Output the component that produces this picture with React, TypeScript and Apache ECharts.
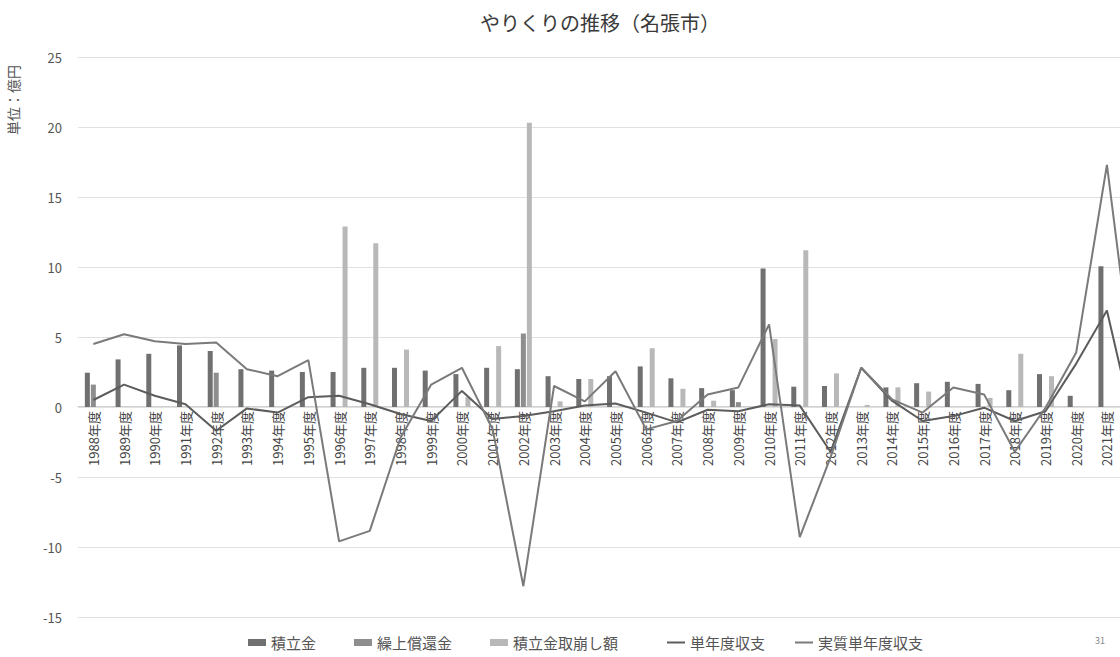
import React, { useEffect, useRef } from "react";
import * as echarts from "echarts";

const categories = [
  "1988年度", "1989年度", "1990年度", "1991年度", "1992年度", "1993年度", "1994年度",
  "1995年度", "1996年度", "1997年度", "1998年度", "1999年度", "2000年度", "2001年度",
  "2002年度", "2003年度", "2004年度", "2005年度", "2006年度", "2007年度", "2008年度",
  "2009年度", "2010年度", "2011年度", "2012年度", "2013年度", "2014年度", "2015年度",
  "2016年度", "2017年度", "2018年度", "2019年度", "2020年度", "2021年度", "2022年度",
];

// 積立金
const reserve = [
  2.45, 3.4, 3.8, 4.4, 4.0, 2.7, 2.6, 2.5, 2.5, 2.8, 2.8, 2.6, 2.35, 2.8, 2.7, 2.2, 2.0,
  2.2, 2.9, 2.05, 1.35, 1.2, 9.9, 1.45, 1.5, null, 1.4, 1.7, 1.8, 1.65, 1.2, 2.35, 0.8,
  10.05, null,
];

// 繰上償還金
const earlyRepayment = [
  1.6, null, null, null, 2.45, null, null, null, null, null, null, null, null, null, 5.25,
  null, null, null, null, null, null, 0.35, null, null, null, null, null, null, null, null,
  null, null, null, null, null,
];

// 積立金取崩し額
const withdrawal = [
  null, null, null, null, null, null, null, null, 12.9, 11.7, 4.1, null, 0.7, 4.35, 20.3,
  0.4, 2.0, null, 4.2, 1.3, 0.45, null, 4.85, 11.2, 2.4, 0.15, 1.4, 1.1, null, 0.65, 3.8,
  2.2, null, null, null,
];

// 単年度収支
const singleYear = [
  0.5, 1.6, 0.8, 0.2, -1.7, -0.1, -0.4, 0.7, 0.8, 0.2, -0.5, -1.0, 1.15, -0.85, -0.65,
  -0.3, 0.1, 0.25, -0.4, -1.1, -0.2, -0.3, 0.2, 0.1, -3.2, 2.8, 0.45, -1.0, -0.65, -0.05,
  -1.0, -0.3, 3.1, 6.9, -2.6,
];

// 実質単年度収支
const realSingleYear = [
  4.5, 5.2, 4.7, 4.5, 4.6, 2.7, 2.2, 3.35, -9.6, -8.85, -2.2, 1.6, 2.8, -1.6, -12.8, 1.5,
  0.4, 2.55, -1.6, -1.0, 0.9, 1.4, 5.9, -9.3, -3.6, 2.8, 0.55, -0.4, 1.4, 0.9, -3.2, -0.05,
  3.9, 17.3, -0.1,
];

const FONT = "'Noto Sans CJK JP', 'Noto Sans', sans-serif";

export default function App() {
  const ref = useRef<HTMLDivElement>(null);

  useEffect(() => {
    document.body.style.margin = "0";
    if (!ref.current) return;
    const chart = echarts.init(ref.current, undefined, { renderer: "svg" });
    const visibleCount = categories.length - 1;
    const legendText = { fontFamily: FONT, fontSize: 15, color: "#555" };
    chart.setOption({
      animation: false,
      backgroundColor: "#ffffff",
      textStyle: { fontFamily: FONT },
      title: {
        text: "やりくりの推移（名張市）",
        left: 595,
        top: 7,
        textAlign: "center",
        textStyle: { fontFamily: FONT, fontSize: 20, fontWeight: "normal", color: "#3a3a3a" },
      },
      graphic: [
        {
          type: "text",
          x: 13,
          y: 100,
          rotation: Math.PI / 2,
          style: {
            text: "単位：億円",
            fontFamily: FONT,
            fontSize: 14,
            fill: "#555",
            align: "center",
            verticalAlign: "middle",
          },
        },
        {
          type: "text",
          x: 1100,
          y: 636,
          style: { text: "31", fontFamily: FONT, fontSize: 9, fill: "#888", align: "center" },
        },
      ],
      legend: [
        {
          left: 243,
          bottom: 2,
          itemGap: 38,
          itemWidth: 18,
          itemHeight: 7,
          icon: "rect",
          textStyle: legendText,
          data: ["積立金", "繰上償還金", "積立金取崩し額"],
        },
        {
          left: 662,
          bottom: 2,
          itemGap: 30,
          itemWidth: 18,
          itemHeight: 2,
          icon: "rect",
          textStyle: legendText,
          data: ["単年度収支", "実質単年度収支"],
        },
      ],
      grid: {
        left: 78,
        right: -33,
        top: 57,
        bottom: 40,
        containLabel: false,
        outerBoundsMode: "none",
      },
      xAxis: {
        type: "category",
        data: categories,
        offset: -211,
        axisTick: { show: false },
        axisLine: { onZero: false, lineStyle: { color: "#d0d0d0" } },
        axisLabel: {
          rotate: 90,
          margin: 5,
          fontSize: 13,
          color: "#444",
          fontFamily: FONT,
          interval: (index: number) => index < visibleCount,
        },
      },
      yAxis: {
        type: "value",
        min: -15,
        max: 25,
        interval: 5,
        axisLine: { show: false },
        axisTick: { show: false },
        axisLabel: { fontSize: 13, color: "#555", margin: 16, fontFamily: FONT },
        splitLine: { lineStyle: { color: "#e0e0e0" } },
      },
      series: [
        {
          name: "積立金",
          type: "bar",
          data: reserve,
          barWidth: 5,
          barGap: "20%",
          itemStyle: { color: "#707070" },
        },
        {
          name: "繰上償還金",
          type: "bar",
          data: earlyRepayment,
          barWidth: 5,
          barGap: "20%",
          itemStyle: { color: "#8e8e8e" },
        },
        {
          name: "積立金取崩し額",
          type: "bar",
          data: withdrawal,
          barWidth: 5,
          barGap: "20%",
          itemStyle: { color: "#b8b8b8" },
        },
        {
          name: "単年度収支",
          type: "line",
          data: singleYear,
          symbol: "none",
          z: 5,
          lineStyle: { color: "#5c5c5c", width: 2 },
          itemStyle: { color: "#5c5c5c" },
        },
        {
          name: "実質単年度収支",
          type: "line",
          data: realSingleYear,
          symbol: "none",
          z: 5,
          lineStyle: { color: "#7a7a7a", width: 2 },
          itemStyle: { color: "#7a7a7a" },
        },
      ],
    });
    return () => chart.dispose();
  }, []);

  return <div ref={ref} style={{ width: 1120, height: 657 }} />;
}
